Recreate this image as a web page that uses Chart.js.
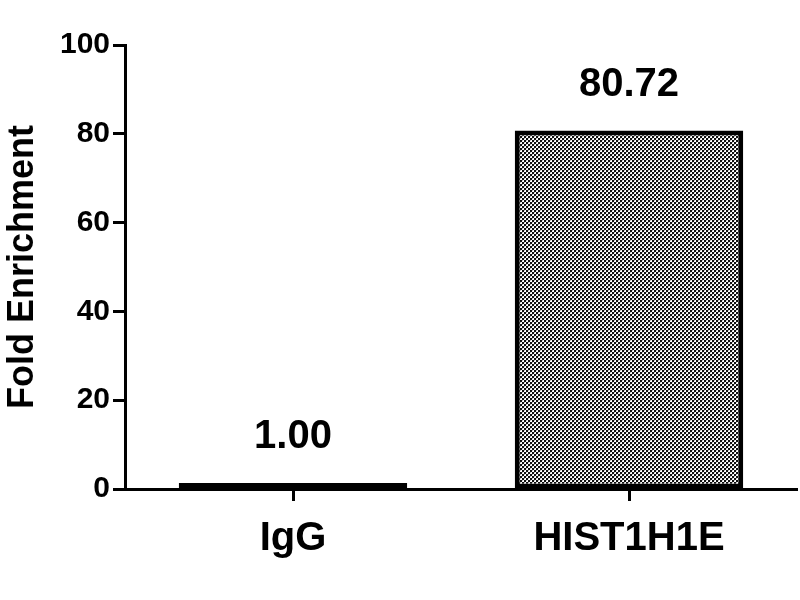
<!DOCTYPE html>
<html>
<head>
<meta charset="utf-8">
<script src="https://cdn.jsdelivr.net/npm/chart.js@4"></script>
<style>
  html, body { margin: 0; padding: 0; background: #fff; }
  #wrap { width: 800px; height: 600px; }
</style>
</head>
<body>
<div id="wrap"><canvas id="foldChart"></canvas></div>
<script>
// chart data
const categories = ["IgG", "HIST1H1E"];
const foldValues = [1.0, 80.72];
const valueLabels = ["1.00", "80.72"];
const yTicks = [0, 20, 40, 60, 80, 100];

const FONT = "'Liberation Sans', Arial, sans-serif";

// dotted fill like the original (small black/white checker)
function makePattern() {
  const c = document.createElement("canvas");
  c.width = 4;
  c.height = 4;
  const g = c.getContext("2d");
  g.fillStyle = "#fff";
  g.fillRect(0, 0, 4, 4);
  g.fillStyle = "#111";
  g.fillRect(0, 0, 2, 2);
  g.fillRect(2, 2, 2, 2);
  g.fillStyle = "#bbb";
  g.fillRect(2, 0, 1, 1);
  g.fillRect(0, 2, 1, 1);
  return g.createPattern(c, "repeat");
}

// value labels above the bars
const valueLabelPlugin = {
  id: "valueLabels",
  afterDatasetsDraw(chart) {
    const ctx = chart.ctx;
    const meta = chart.getDatasetMeta(0);
    ctx.save();
    ctx.font = "bold 40px " + FONT;
    ctx.fillStyle = "#000";
    ctx.textAlign = "center";
    ctx.textBaseline = "middle";
    meta.data.forEach((bar, i) => {
      ctx.fillText(valueLabels[i], bar.x, bar.y - 46);
    });
    ctx.restore();
  },
};

const ctx = document.getElementById("foldChart");
new Chart(ctx, {
  type: "bar",
  data: {
    labels: categories,
    datasets: [
      {
        data: foldValues,
        backgroundColor: makePattern(),
        borderColor: "#000",
        borderWidth: 5,
        borderSkipped: false,
        minBarLength: 6,
        categoryPercentage: 1,
        barPercentage: 0.68,
      },
    ],
  },
  options: {
    responsive: true,
    maintainAspectRatio: false,
    animation: false,
    layout: { padding: { top: 45, right: 3, left: 0, bottom: 0 } },
    plugins: {
      legend: { display: false },
      tooltip: { enabled: false },
    },
    scales: {
      x: {
        grid: {
          offset: false,
          drawOnChartArea: false,
          tickLength: 12,
          tickColor: "#000",
          tickWidth: 3,
        },
        border: { color: "#000", width: 3 },
        ticks: {
          color: "#000",
          padding: 14,
          font: { family: FONT, size: 40, weight: "bold" },
        },
        afterFit(scale) {
          scale.height = 111;
        },
      },
      y: {
        min: 0,
        max: 100,
        afterBuildTicks(scale) {
          scale.ticks = yTicks.map((v) => ({ value: v }));
        },
        grid: {
          drawOnChartArea: false,
          tickLength: 12,
          tickColor: "#000",
          tickWidth: 3,
        },
        border: { color: "#000", width: 3 },
        ticks: {
          color: "#000",
          padding: 3,
          font: { family: FONT, size: 30, weight: "bold" },
        },
        title: {
          display: true,
          text: "Fold Enrichment",
          color: "#000",
          padding: { top: 1, bottom: 0 },
          font: { family: FONT, size: 36, weight: "bold" },
        },
        afterFit(scale) {
          scale.width = 125;
        },
      },
    },
  },
  plugins: [valueLabelPlugin],
});
</script>
</body>
</html>
